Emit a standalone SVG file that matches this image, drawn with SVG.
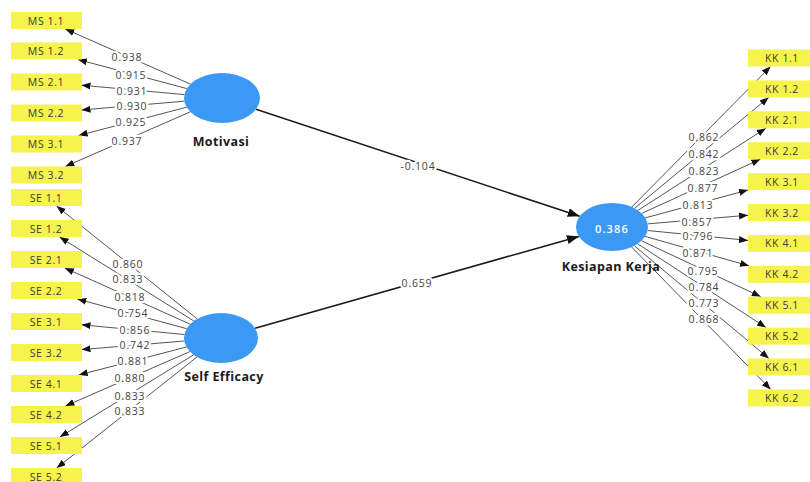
<svg xmlns="http://www.w3.org/2000/svg" width="810" height="482" viewBox="0 0 810 482">
<defs>
<marker id="ah" markerUnits="userSpaceOnUse" markerWidth="10" markerHeight="8" refX="9" refY="3.5" orient="auto"><path d="M0,0 L9,3.5 L0,7 z" fill="#111"/></marker>
<marker id="ahp" markerUnits="userSpaceOnUse" markerWidth="13" markerHeight="10" refX="12" refY="4.5" orient="auto"><path d="M0,0 L12,4.5 L0,9 z" fill="#111"/></marker>
<style>
.ld{stroke:#555;stroke-width:1;fill:none;marker-end:url(#ah)}
.pt{stroke:#1a1a1a;stroke-width:1.6;fill:none;marker-end:url(#ahp)}
.bx{fill:#f6f34c}
.bt{font-family:"Open Sans","DejaVu Sans",sans-serif;font-size:10.5px;fill:#3a3a3a;text-anchor:middle;letter-spacing:0.6px}
.lv{fill:#3b99f3}
.nl{font-family:"Open Sans","DejaVu Sans",sans-serif;font-size:12.5px;font-weight:bold;fill:#1a1a1a;text-anchor:middle;letter-spacing:0.4px}
.wl{font-family:"Open Sans","DejaVu Sans",sans-serif;font-size:11px;fill:#ffffff;text-anchor:middle;letter-spacing:1.2px;font-weight:600}
.el{font-family:"Open Sans","DejaVu Sans",sans-serif;font-size:10.5px;fill:#444;text-anchor:middle;letter-spacing:0.8px;stroke:#fff;stroke-width:4.5px;paint-order:stroke;stroke-linejoin:round}
</style>
</defs>
<rect width="810" height="482" fill="#fff"/>
<g id="connectors">
<line class="ld" x1="190.4" y1="84.1" x2="65.3" y2="29.0"/>
<line class="ld" x1="186.8" y1="88.6" x2="77.9" y2="59.5"/>
<line class="ld" x1="184.4" y1="94.6" x2="81.5" y2="85.2"/>
<line class="ld" x1="184.3" y1="101.2" x2="81.5" y2="110.0"/>
<line class="ld" x1="186.7" y1="107.2" x2="78.6" y2="135.5"/>
<line class="ld" x1="190.4" y1="111.8" x2="65.3" y2="166.5"/>
<line class="ld" x1="197.2" y1="318.9" x2="56.6" y2="206.0"/>
<line class="ld" x1="193.9" y1="321.0" x2="59.6" y2="237.0"/>
<line class="ld" x1="190.2" y1="324.2" x2="64.9" y2="268.0"/>
<line class="ld" x1="186.7" y1="328.7" x2="77.3" y2="299.0"/>
<line class="ld" x1="184.4" y1="334.5" x2="81.5" y2="324.8"/>
<line class="ld" x1="184.3" y1="341.0" x2="81.5" y2="349.6"/>
<line class="ld" x1="186.5" y1="347.0" x2="78.7" y2="375.0"/>
<line class="ld" x1="189.9" y1="351.6" x2="65.4" y2="406.0"/>
<line class="ld" x1="193.6" y1="354.8" x2="59.9" y2="437.0"/>
<line class="ld" x1="197.0" y1="357.0" x2="56.7" y2="468.0"/>
<line class="ld" x1="631.8" y1="207.0" x2="770.6" y2="66.5"/>
<line class="ld" x1="634.6" y1="208.3" x2="768.7" y2="97.4"/>
<line class="ld" x1="637.9" y1="210.4" x2="765.8" y2="128.3"/>
<line class="ld" x1="641.7" y1="213.4" x2="760.4" y2="159.2"/>
<line class="ld" x1="645.3" y1="217.9" x2="748" y2="190.0"/>
<line class="ld" x1="647.7" y1="223.9" x2="748" y2="215.2"/>
<line class="ld" x1="647.6" y1="230.5" x2="748" y2="240.4"/>
<line class="ld" x1="645.1" y1="236.4" x2="749.0" y2="265.8"/>
<line class="ld" x1="641.5" y1="240.8" x2="760.8" y2="296.7"/>
<line class="ld" x1="637.7" y1="243.8" x2="766.0" y2="327.6"/>
<line class="ld" x1="634.4" y1="245.8" x2="768.9" y2="358.5"/>
<line class="ld" x1="631.7" y1="247.1" x2="770.7" y2="389.4"/>
<line class="pt" x1="256" y1="109.2" x2="579.7" y2="216.3"/>
<line class="pt" x1="255.1" y1="328.3" x2="578.9" y2="236.4"/>
<text class="el" x="127" y="61">0.938</text>
<text class="el" x="131" y="79">0.915</text>
<text class="el" x="132" y="95">0.931</text>
<text class="el" x="132" y="110">0.930</text>
<text class="el" x="131" y="126">0.925</text>
<text class="el" x="127" y="145">0.937</text>
<text class="el" x="128" y="268">0.860</text>
<text class="el" x="128" y="283">0.833</text>
<text class="el" x="130" y="301">0.818</text>
<text class="el" x="133" y="317">0.754</text>
<text class="el" x="135" y="334">0.856</text>
<text class="el" x="135" y="349">0.742</text>
<text class="el" x="133" y="365">0.881</text>
<text class="el" x="130" y="382">0.880</text>
<text class="el" x="130" y="400">0.833</text>
<text class="el" x="130" y="415">0.833</text>
<text class="el" x="704" y="141">0.862</text>
<text class="el" x="704" y="158">0.842</text>
<text class="el" x="704" y="175">0.823</text>
<text class="el" x="703" y="192">0.877</text>
<text class="el" x="698" y="209">0.813</text>
<text class="el" x="697" y="226">0.857</text>
<text class="el" x="698" y="240">0.796</text>
<text class="el" x="698" y="257">0.871</text>
<text class="el" x="703" y="275">0.795</text>
<text class="el" x="704" y="291">0.784</text>
<text class="el" x="704" y="307">0.773</text>
<text class="el" x="704" y="323">0.868</text>
<text class="el" x="418" y="170">-0.104</text>
<text class="el" x="417" y="287">0.659</text>
</g>
<g id="motivasi"><ellipse class="lv" cx="222" cy="98" rx="38" ry="25"/><text class="nl" x="221" y="146">Motivasi</text></g>
<g id="self-efficacy"><ellipse class="lv" cx="221" cy="338" rx="37" ry="25"/><text class="nl" x="224" y="381">Self Efficacy</text></g>
<g id="kesiapan-kerja"><ellipse class="lv" cx="612" cy="227" rx="36" ry="24"/><text class="wl" x="612" y="233">0.386</text><text class="nl" x="611" y="271">Kesiapan Kerja</text></g>
<g id="ms11"><rect class="bx" x="11" y="12" width="71" height="17"/><text class="bt" x="46" y="24.5">MS 1.1</text></g>
<g id="ms12"><rect class="bx" x="11" y="42.5" width="71" height="17"/><text class="bt" x="46" y="55">MS 1.2</text></g>
<g id="ms21"><rect class="bx" x="11" y="73.5" width="71" height="17"/><text class="bt" x="46" y="86">MS 2.1</text></g>
<g id="ms22"><rect class="bx" x="11" y="104.5" width="71" height="17"/><text class="bt" x="46" y="117">MS 2.2</text></g>
<g id="ms31"><rect class="bx" x="11" y="135.5" width="71" height="17"/><text class="bt" x="46" y="148">MS 3.1</text></g>
<g id="ms32"><rect class="bx" x="11" y="166.5" width="71" height="17"/><text class="bt" x="46" y="179">MS 3.2</text></g>
<g id="se11"><rect class="bx" x="11" y="189" width="71" height="17"/><text class="bt" x="46" y="201.5">SE 1.1</text></g>
<g id="se12"><rect class="bx" x="11" y="220" width="71" height="17"/><text class="bt" x="46" y="232.5">SE 1.2</text></g>
<g id="se21"><rect class="bx" x="11" y="251" width="71" height="17"/><text class="bt" x="46" y="263.5">SE 2.1</text></g>
<g id="se22"><rect class="bx" x="11" y="282" width="71" height="17"/><text class="bt" x="46" y="294.5">SE 2.2</text></g>
<g id="se31"><rect class="bx" x="11" y="313" width="71" height="17"/><text class="bt" x="46" y="325.5">SE 3.1</text></g>
<g id="se32"><rect class="bx" x="11" y="344" width="71" height="17"/><text class="bt" x="46" y="356.5">SE 3.2</text></g>
<g id="se41"><rect class="bx" x="11" y="375" width="71" height="17"/><text class="bt" x="46" y="387.5">SE 4.1</text></g>
<g id="se42"><rect class="bx" x="11" y="406" width="71" height="17"/><text class="bt" x="46" y="418.5">SE 4.2</text></g>
<g id="se51"><rect class="bx" x="11" y="437" width="71" height="17"/><text class="bt" x="46" y="449.5">SE 5.1</text></g>
<g id="se52"><rect class="bx" x="11" y="468" width="71" height="17"/><text class="bt" x="46" y="480.5">SE 5.2</text></g>
<g id="kk11"><rect class="bx" x="748" y="49.5" width="62" height="17"/><text class="bt" x="782" y="62">KK 1.1</text></g>
<g id="kk12"><rect class="bx" x="748" y="80.4" width="62" height="17"/><text class="bt" x="782" y="92.9">KK 1.2</text></g>
<g id="kk21"><rect class="bx" x="748" y="111.3" width="62" height="17"/><text class="bt" x="782" y="123.8">KK 2.1</text></g>
<g id="kk22"><rect class="bx" x="748" y="142.2" width="62" height="17"/><text class="bt" x="782" y="154.7">KK 2.2</text></g>
<g id="kk31"><rect class="bx" x="748" y="173.1" width="62" height="17"/><text class="bt" x="782" y="185.6">KK 3.1</text></g>
<g id="kk32"><rect class="bx" x="748" y="204" width="62" height="17"/><text class="bt" x="782" y="216.5">KK 3.2</text></g>
<g id="kk41"><rect class="bx" x="748" y="234.9" width="62" height="17"/><text class="bt" x="782" y="247.4">KK 4.1</text></g>
<g id="kk42"><rect class="bx" x="748" y="265.8" width="62" height="17"/><text class="bt" x="782" y="278.3">KK 4.2</text></g>
<g id="kk51"><rect class="bx" x="748" y="296.7" width="62" height="17"/><text class="bt" x="782" y="309.2">KK 5.1</text></g>
<g id="kk52"><rect class="bx" x="748" y="327.6" width="62" height="17"/><text class="bt" x="782" y="340.1">KK 5.2</text></g>
<g id="kk61"><rect class="bx" x="748" y="358.5" width="62" height="17"/><text class="bt" x="782" y="371">KK 6.1</text></g>
<g id="kk62"><rect class="bx" x="748" y="389.4" width="62" height="17"/><text class="bt" x="782" y="401.9">KK 6.2</text></g>
</svg>
